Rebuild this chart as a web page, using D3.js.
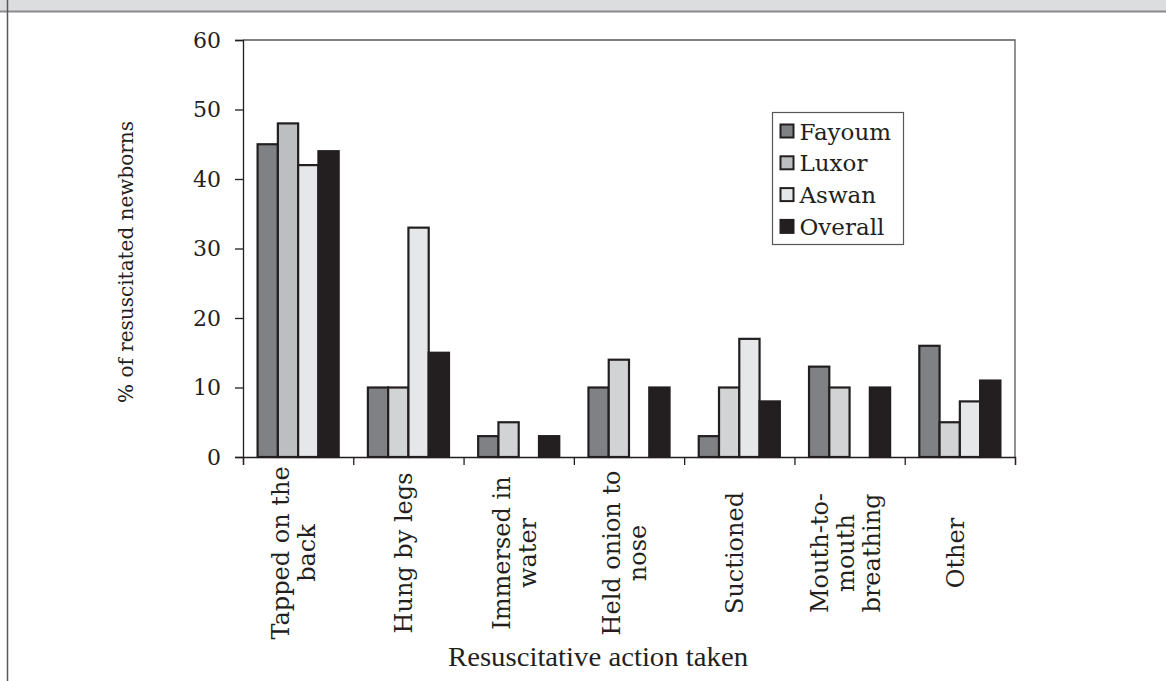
<!DOCTYPE html>
<html>
<head>
<meta charset="utf-8">
<script src="https://cdn.jsdelivr.net/npm/d3@7/dist/d3.min.js"></script>
<style>
  html, body { margin: 0; padding: 0; background: #fff; }
  svg { display: block; }
  text { font-family: "DejaVu Serif", serif; fill: #231f20; }
</style>
</head>
<body>
<div id="chart"></div>
<script>
// chart data
const categories = ['Tapped on the\nback', 'Hung by legs', 'Immersed in\nwater', 'Held onion to\nnose',
    'Suctioned', 'Mouth-to-\nmouth\nbreathing', 'Other'];
const seriesNames = ['Fayoum', 'Luxor', 'Aswan', 'Overall'];
const fayoum = [45, 10, 3, 10, 3, 13, 16];
const luxor = [48, 10, 5, 14, 10, 10, 5];
const aswan = [42, 33, 0, 0, 17, 0, 8];
const overall = [44, 15, 3, 10, 8, 10, 11];
const yTicks = [0, 10, 20, 30, 40, 50, 60];

const W = 1166, H = 681;
const plot = {left: 243, right: 1015, top: 40, bottom: 457};
const ink = '#231f20';
const fills = {Fayoum: '#808184', Luxor: '#d1d3d4', Aswan: '#e6e7e8', Overall: '#231f20'};
const luxorLegendFill = '#bcbec0';

const svg = d3.select('#chart').append('svg')
    .attr('width', W)
    .attr('height', H);

// grey header strip and left frame line of the page
svg.append('rect').attr('x', 0).attr('y', 0).attr('width', W).attr('height', 11).attr('fill', '#dcddde');
svg.append('line').attr('x1', 0).attr('x2', W).attr('y1', 11.5).attr('y2', 11.5)
    .attr('stroke', '#8a8a8c').attr('stroke-width', 2);
svg.append('line').attr('x1', 7.5).attr('x2', 7.5).attr('y1', 0).attr('y2', H)
    .attr('stroke', '#58585a').attr('stroke-width', 1.5);

const x = d3.scaleBand().domain(categories).range([plot.left, plot.right]);
const xs = d3.scaleBand().domain(seriesNames).range([0, x.bandwidth()]).paddingOuter(0.72);
const y = d3.scaleLinear().domain([0, 60]).range([plot.bottom, plot.top]);
const xEdges = d3.scaleLinear().domain([0, categories.length]).range([plot.left, plot.right]);

const rows = categories.map((c, i) => ({
    cat: c,
    values: [fayoum[i], luxor[i], aswan[i], overall[i]].map((v, j) => ({cat: c, i, name: seriesNames[j], value: v}))
}));

// frame top & right
svg.append('path')
    .attr('d', `M${plot.left},${plot.top}H${plot.right}V${plot.bottom}`)
    .attr('fill', 'none').attr('stroke', '#58585a').attr('stroke-width', 1.3);

// bars
const groups = svg.append('g').selectAll('g')
    .data(rows)
    .join('g')
    .attr('transform', d => `translate(${x(d.cat)},0)`);

groups.selectAll('rect')
    .data(d => d.values.filter(v => v.value > 0))
    .join('rect')
    .attr('x', d => xs(d.name))
    .attr('y', d => y(d.value))
    .attr('width', xs.bandwidth())
    .attr('height', d => y(0) - y(d.value))
    .attr('fill', d => (d.name === 'Luxor' && d.i === 0) ? luxorLegendFill : fills[d.name])
    .attr('stroke', ink)
    .attr('stroke-width', 2.2);

// y axis
const yAxis = svg.append('g')
    .attr('transform', `translate(${plot.left},0)`)
    .call(d3.axisLeft(y).tickValues(yTicks).tickSize(8).tickPadding(14));
yAxis.select('.domain').attr('stroke', ink).attr('stroke-width', 1.3);
yAxis.selectAll('.tick line').attr('stroke', ink).attr('stroke-width', 1.3);
yAxis.selectAll('.tick text')
    .style('font-size', '22px')
    .style('font-family', '"DejaVu Serif", serif')
    .attr('fill', ink);

// x axis: ticks at the band edges
const xAxis = svg.append('g')
    .attr('transform', `translate(0,${plot.bottom})`)
    .call(d3.axisBottom(xEdges).tickValues(d3.range(categories.length + 1)).tickSize(8).tickFormat(''));
xAxis.select('.domain').attr('stroke', ink).attr('stroke-width', 1.3);
xAxis.selectAll('.tick line').attr('stroke', ink).attr('stroke-width', 1.3);

// rotated category labels
const lineH = 26;
svg.append('g').selectAll('text')
    .data(categories)
    .join('text')
    .attr('transform', d => `translate(${x(d) + x.bandwidth() / 2 - 4},553) rotate(-90)`)
    .attr('text-anchor', 'middle')
    .style('font-size', '24px')
    .each(function (d) {
        const lines = d.split('\n');
        d3.select(this).selectAll('tspan')
            .data(lines)
            .join('tspan')
            .attr('x', 0)
            .attr('y', (l, k) => (k - (lines.length - 1) / 2) * lineH + 8)
            .text(l => l);
    });

// axis titles
svg.append('text')
    .attr('transform', `translate(133,262) rotate(-90)`)
    .attr('text-anchor', 'middle')
    .style('font-size', '20px')
    .text('% of resuscitated newborns');

svg.append('text')
    .attr('x', 598)
    .attr('y', 666)
    .attr('text-anchor', 'middle')
    .attr('textLength', 300)
    .attr('lengthAdjust', 'spacingAndGlyphs')
    .style('font-family', '"Liberation Serif", serif')
    .style('font-size', '27px')
    .text('Resuscitative action taken');

// legend
const legend = svg.append('g').attr('transform', 'translate(772.5,112.5)');
legend.append('rect')
    .attr('width', 131).attr('height', 132)
    .attr('fill', '#fff').attr('stroke', '#58585a').attr('stroke-width', 1.2);
const items = legend.selectAll('g.item')
    .data(seriesNames)
    .join('g')
    .attr('class', 'item')
    .attr('transform', (d, i) => `translate(8,${19 + i * 31.8})`);
items.append('rect')
    .attr('x', 0).attr('y', -7).attr('width', 13).attr('height', 13)
    .attr('fill', d => d === 'Luxor' ? luxorLegendFill : fills[d])
    .attr('stroke', ink).attr('stroke-width', 2);
items.append('text')
    .attr('x', 19).attr('y', 8)
    .style('font-size', '23px')
    .text(d => d);
</script>
</body>
</html>
